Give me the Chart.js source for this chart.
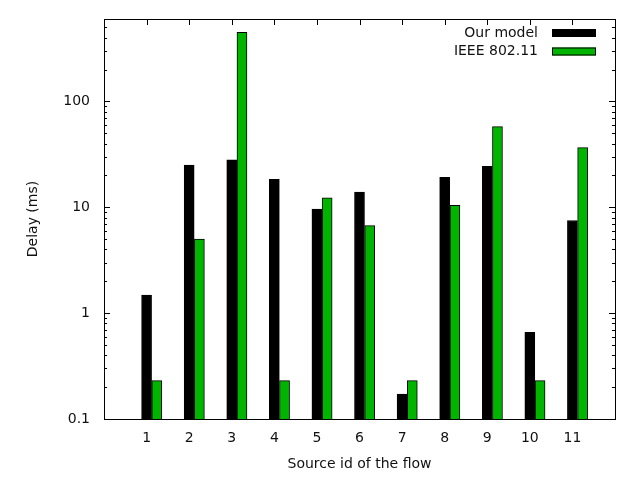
<!DOCTYPE html>
<html>
<head>
<meta charset="utf-8">
<script src="https://cdn.jsdelivr.net/npm/chart.js@4.4.1/dist/chart.umd.min.js"></script>
<style>
  html, body { margin: 0; padding: 0; background: #fff; }
</style>
</head>
<body>
<canvas id="delayChart" width="640" height="480"></canvas>
<script>
const sourceIds = [1, 2, 3, 4, 5, 6, 7, 8, 9, 10, 11];
const ourModel = [1.48, 25, 28, 18.4, 9.6, 13.9, 0.172, 19.2, 24.4, 0.66, 7.5];
const ieee80211 = [0.23, 5, 450, 0.23, 12.3, 6.7, 0.23, 10.4, 57.7, 0.23, 36.6];
const yMajorTicks = [0.1, 1, 10, 100];
const seriesNames = ["Our model", "IEEE 802.11"];

const FONT = { family: "DejaVu Sans", size: 14 };
const TEXT_COLOR = "#111";
const GREEN = "#00b400";
// green bar sits right next to the black one
const BAR_SHIFT = 0.24;

// gnuplot style frame with inward ticks on all four sides
const frameTicks = {
    id: "frameTicks",
    beforeDatasetsDraw(chart) {
        const { ctx, chartArea: a, scales: { x, y } } = chart;
        ctx.save();
        ctx.strokeStyle = "#000";
        ctx.lineWidth = 1;
        ctx.beginPath();
        sourceIds.forEach(v => {
            const px = Math.round(x.getPixelForValue(v)) + 0.5;
            ctx.moveTo(px, a.top);
            ctx.lineTo(px, a.top + 6);
            ctx.moveTo(px, a.bottom);
            ctx.lineTo(px, a.bottom - 6);
        });
        for (let e = -1; e <= 2; e++) {
            for (let k = 1; k <= 9; k++) {
                const v = k * Math.pow(10, e);
                if (v > y.max) break;
                const len = k === 1 ? 6 : 3;
                const py = Math.round(y.getPixelForValue(v)) + 0.5;
                ctx.moveTo(a.left, py);
                ctx.lineTo(a.left + len, py);
                ctx.moveTo(a.right, py);
                ctx.lineTo(a.right - len, py);
            }
        }
        ctx.stroke();
        ctx.restore();
    },
    afterDatasetsDraw(chart) {
        const { ctx, chartArea: a } = chart;
        ctx.save();
        ctx.strokeStyle = "#000";
        ctx.lineWidth = 1;
        ctx.strokeRect(Math.round(a.left) + 0.5, Math.round(a.top) + 0.5,
            Math.round(a.right - a.left), Math.round(a.bottom - a.top));
        ctx.restore();
    }
};

// legend inside the plot, text on the left of the sample box
const legendBox = {
    id: "legendBox",
    afterDraw(chart) {
        const { ctx, chartArea: a } = chart;
        ctx.save();
        ctx.font = `${FONT.size}px "${FONT.family}"`;
        ctx.textAlign = "right";
        ctx.textBaseline = "middle";
        chart.data.datasets.forEach((ds, i) => {
            const cy = a.top + 14 + i * 18.5;
            ctx.fillStyle = TEXT_COLOR;
            ctx.fillText(ds.label, a.right - 77, cy);
            ctx.fillStyle = ds.backgroundColor;
            ctx.fillRect(a.right - 63, cy - 4, 44, 8);
            ctx.strokeStyle = "#000";
            ctx.strokeRect(a.right - 62.5, cy - 3.5, 43, 7);
        });
        ctx.restore();
    }
};

const chart = new Chart(document.getElementById("delayChart"), {
    type: "bar",
    data: {
        datasets: [
            {
                label: seriesNames[0],
                data: sourceIds.map((id, i) => ({ x: id, y: ourModel[i] })),
                backgroundColor: "#000",
                borderColor: "#000",
                borderWidth: 1
            },
            {
                label: seriesNames[1],
                data: sourceIds.map((id, i) => ({ x: id + BAR_SHIFT, y: ieee80211[i] })),
                backgroundColor: GREEN,
                borderColor: "#000",
                borderWidth: 1
            }
        ]
    },
    options: {
        responsive: false,
        animation: false,
        layout: { padding: { top: 19, right: 25, left: 0, bottom: 0 } },
        datasets: { bar: { barThickness: 10, grouped: false } },
        plugins: {
            legend: { display: false },
            tooltip: { enabled: false }
        },
        scales: {
            x: {
                type: "linear",
                min: 0,
                max: 12,
                offset: false,
                afterBuildTicks: scale => { scale.ticks = sourceIds.map(v => ({ value: v })); },
                ticks: { font: FONT, color: TEXT_COLOR, padding: 11, maxRotation: 0, autoSkip: false },
                grid: { display: false, drawTicks: false },
                border: { display: false },
                title: {
                    display: true,
                    text: "Source id of the flow",
                    font: FONT,
                    color: TEXT_COLOR,
                    padding: { top: 0, bottom: 7 }
                },
                afterFit: scale => {
                    scale.height = 61;
                    scale.paddingLeft = 0;
                    scale.paddingRight = 0;
                }
            },
            y: {
                type: "logarithmic",
                min: 0.1,
                max: 600,
                afterBuildTicks: scale => { scale.ticks = yMajorTicks.map(v => ({ value: v })); },
                ticks: { font: FONT, color: TEXT_COLOR, padding: 14, callback: v => String(v) },
                grid: { display: false, drawTicks: false },
                border: { display: false },
                title: {
                    display: true,
                    text: "Delay (ms)",
                    font: FONT,
                    color: TEXT_COLOR,
                    padding: { top: 25, bottom: 0 }
                },
                afterFit: scale => {
                    scale.width = 104;
                    scale.paddingTop = 0;
                    scale.paddingBottom = 0;
                }
            }
        }
    },
    plugins: [frameTicks, legendBox]
});
</script>
</body>
</html>
